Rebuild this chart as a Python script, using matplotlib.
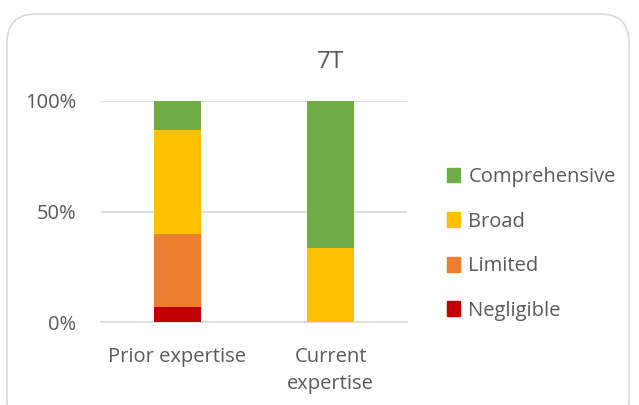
import matplotlib
matplotlib.use("Agg")
import matplotlib.pyplot as plt
from matplotlib.patches import FancyBboxPatch, Patch

categories = ["Prior expertise", "Current\nexpertise"]
levels = ["Negligible", "Limited", "Broad", "Comprehensive"]
values = {
    "Negligible": [6.67, 0.0],
    "Limited": [33.33, 0.0],
    "Broad": [46.67, 33.33],
    "Comprehensive": [13.33, 66.67],
}
colors = {
    "Negligible": "#C00000",
    "Limited": "#ED7D31",
    "Broad": "#FFC000",
    "Comprehensive": "#70AD47",
}
yticks = [0, 50, 100]
ytick_labels = ["0%", "50%", "100%"]

plt.rcParams['font.family'] = ['Open Sans', 'DejaVu Sans']
txt = "#595959"
fs = 14.5

W, H = 639, 405
fig = plt.figure(figsize=(W/100, H/100), dpi=100)

border = FancyBboxPatch((7/W, 1 - 430/H), 622/W, (430-14)/H,
                        boxstyle="round,pad=0,rounding_size=0.045",
                        transform=fig.transFigure, fc="white", ec="#D9D9D9", lw=1.2,
                        mutation_aspect=W/H, zorder=-10)
fig.add_artist(border)

ax = fig.add_axes([101/W, 1 - 322/H, (407-101)/W, (322-101)/H])
ax.set_zorder(5)
ax.set_facecolor("none")
x = list(range(len(categories)))
bottom = [0.0] * len(categories)
for lv in levels:
    ax.bar(x, values[lv], bottom=bottom, width=0.31, color=colors[lv], zorder=3, label=lv)
    bottom = [b + v for b, v in zip(bottom, values[lv])]

ax.set_xlim(-0.5, 1.5)
ax.set_ylim(0, 100)
ax.set_yticks(yticks)
ax.set_yticklabels(ytick_labels, color=txt, fontsize=fs)
ax.set_xticks(x)
ax.set_xticklabels(categories, color=txt, fontsize=fs, linespacing=1.45)
ax.tick_params(axis='x', length=0, pad=18)
ax.tick_params(axis='y', length=0, pad=18)
ax.grid(axis='y', color="#D9D9D9", lw=1.2, zorder=0)
for s in ax.spines.values():
    s.set_visible(False)
ax.spines['bottom'].set_visible(True)
ax.spines['bottom'].set_color("#D9D9D9")
ax.spines['bottom'].set_linewidth(1.2)

fig.text(330/W, 1 - 62/H, "7T", ha="center", va="center", fontsize=17.5, color=txt)

handles = [Patch(color=colors[lv], label=lv) for lv in reversed(levels)]
fig.legend(handles=handles, loc="upper left", bbox_to_anchor=(429/W, 1 - 149/H),
           frameon=False, fontsize=fs, labelcolor=txt, handlelength=0.65,
           handleheight=0.75, handletextpad=0.4, labelspacing=1.22)

fig.savefig("out.png", dpi=100)
